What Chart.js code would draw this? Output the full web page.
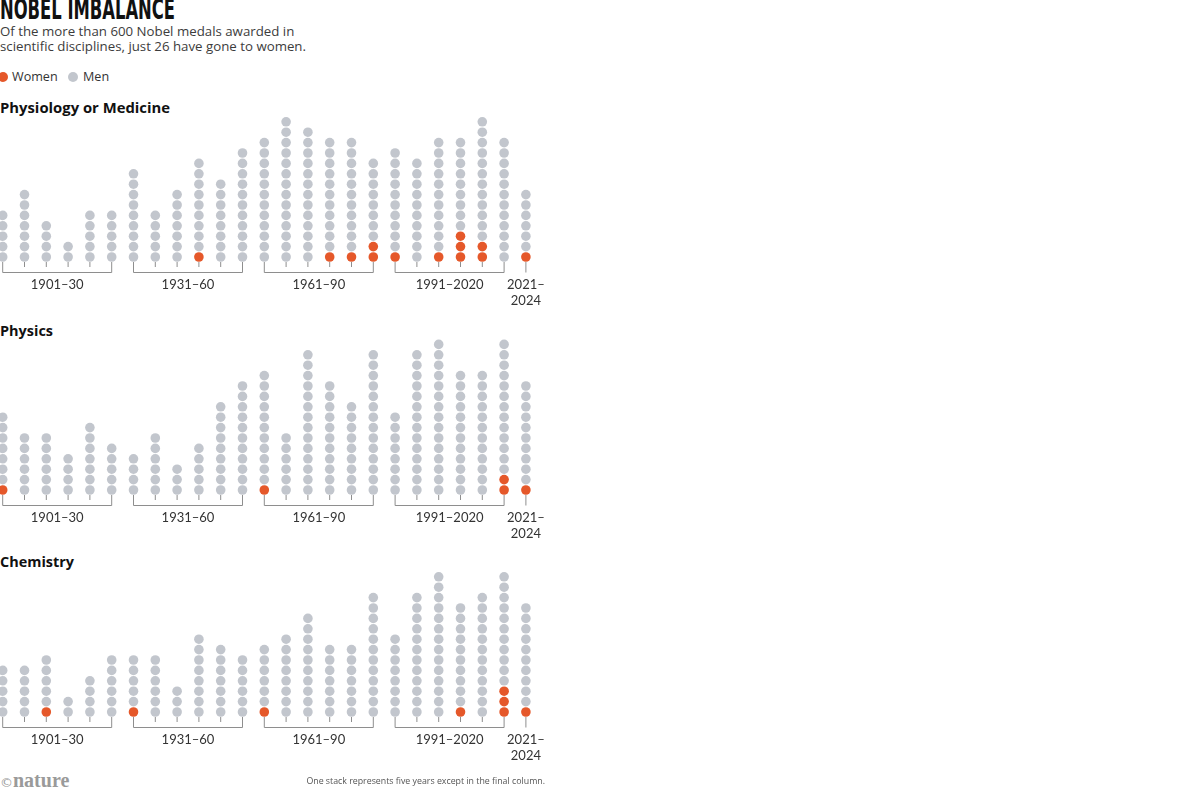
<!DOCTYPE html>
<html><head><meta charset="utf-8">
<script src="https://cdn.jsdelivr.net/npm/chart.js@4.4.1/dist/chart.umd.min.js"></script>
<style>
html,body{margin:0;padding:0;background:#fff;width:1200px;height:797px;overflow:hidden;}
body{position:relative;font-family:'Open Sans',Lato,sans-serif;color:#333;}
.abs{position:absolute;white-space:nowrap;}
#title{left:0;top:-5px;font-family:'Liberation Sans Narrow','DejaVu Sans Condensed',sans-serif;font-weight:bold;font-size:29px;line-height:29px;color:#111;transform-origin:0 0;}
#sub{left:0;top:24px;font-size:13px;line-height:14.7px;color:#3c3c3c;transform-origin:0 0;}
.leg{top:68.5px;font-size:12.6px;line-height:15px;color:#333;}
.dot{position:absolute;width:10px;height:10px;border-radius:50%;top:72px;}
.ptitle{left:0;font-size:14px;line-height:16px;font-weight:bold;color:#111;transform-origin:0 0;}
#logo{left:0;top:769px;font-family:'Liberation Serif',serif;font-weight:bold;font-size:20px;line-height:22px;color:#9a9a9a;}
#logo span{font-family:'DejaVu Sans',sans-serif;font-weight:normal;font-size:13px;}
#note{right:655px;top:776px;font-size:8.8px;line-height:10px;color:#555;}
canvas{position:absolute;left:0;}
</style></head>
<body>
<div id="title" class="abs">NOBEL IMBALANCE</div>
<div id="sub" class="abs">Of the more than 600 Nobel medals awarded in<br>scientific disciplines, just 26 have gone to women.</div>
<div class="dot" style="left:-2px;background:#e5582a"></div>
<div class="abs leg" style="left:12px">Women</div>
<div class="dot" style="left:68px;background:#c2c6cd"></div>
<div class="abs leg" style="left:83px">Men</div>
<div class="abs ptitle" id="t0">Physiology or Medicine</div>
<div class="abs ptitle" id="t1">Physics</div>
<div class="abs ptitle" id="t2">Chemistry</div>
<canvas id="c0" width="550" height="225"></canvas>
<canvas id="c1" width="550" height="225"></canvas>
<canvas id="c2" width="550" height="225"></canvas>
<div id="logo" class="abs"><span>©</span>nature</div>
<div id="note" class="abs">One stack represents five years except in the final column.</div>
<script>
// ---- data ----
const periods = ['1901–05','1906–10','1911–15','1916–20','1921–25','1926–30',
  '1931–35','1936–40','1941–45','1946–50','1951–55','1956–60',
  '1961–65','1966–70','1971–75','1976–80','1981–85','1986–90',
  '1991–95','1996–2000','2001–05','2006–10','2011–15','2016–20','2021–24'];
const medicineTotal = [5,7,4,2,5,5, 9,5,7,10,8,11, 12,14,13,12,12,10, 11,10,12,12,14,12, 7];
const medicineWomen = [0,0,0,0,0,0, 0,0,0,1,0,0, 0,0,0,1,1,2, 1,0,1,3,2,0, 1];
const physicsTotal = [8,6,6,4,7,5, 4,6,3,5,9,11, 12,6,14,11,9,14, 8,14,15,12,12,15, 11];
const physicsWomen = [1,0,0,0,0,0, 0,0,0,0,0,0, 1,0,0,0,0,0, 0,0,0,0,0,2, 1];
const chemistryTotal = [5,5,6,2,4,6, 6,6,3,8,7,6, 7,8,10,7,7,12, 8,12,14,11,12,14, 11];
const chemistryWomen = [0,0,1,0,0,0, 1,0,0,0,0,0, 1,0,0,0,0,0, 0,0,0,1,0,3, 1];
const panelTitles = ['Physiology or Medicine','Physics','Chemistry'];
const groupLabels = ['1901–30','1931–60','1961–90','1991–2020',['2021–','2024']];
const groupStart = [0,6,12,18,24];
const groupEnd = [5,11,17,23,24];

// ---- layout ----
const WOMEN = '#e5582a', MEN = '#c2c6cd';
const bottomDotY = [257.3, 489.5, 711.7];
const titleTop = [100.3, 322.6, 553.8];
const titleWidth = [170, 53, 74];
const colSpacing = 21.8, firstCol = 2.7, rowSpacing = 10.4;
const W = 550, H = 225, above = 170, padBottom = 49.8;

function fitWidth(el, target) {
  const w = el.getBoundingClientRect().width;
  el.style.transform = 'scaleX(' + (target / w) + ')';
}
fitWidth(document.getElementById('title'), 175);

const bracketPlugin = {
  id: 'brackets',
  afterDatasetsDraw(chart) {
    const {ctx, scales: {x, y}} = chart;
    const base = y.getPixelForValue(0);
    const stemTop = base + 5, lineY = Math.round(base + 14.7) + 0.5;
    ctx.save();
    ctx.strokeStyle = '#8e8e8e';
    ctx.lineWidth = 1;
    groupStart.forEach((s, g) => {
      const e = groupEnd[g];
      const x1 = x.getPixelForValue(s), x2 = x.getPixelForValue(e);
      ctx.beginPath();
      if (s === e) {
        ctx.moveTo(x1, stemTop); ctx.lineTo(x1, lineY);
      } else {
        ctx.moveTo(x1, stemTop); ctx.lineTo(x1, lineY); ctx.lineTo(x2, lineY); ctx.lineTo(x2, stemTop);
        for (let i = s + 1; i < e; i++) {
          const xi = x.getPixelForValue(i);
          ctx.moveTo(xi, stemTop); ctx.lineTo(xi, stemTop + 5);
        }
      }
      ctx.stroke();
      const lbl = groupLabels[g];
      const lines = Array.isArray(lbl) ? lbl : [lbl];
      ctx.fillStyle = '#333';
      ctx.font = '13px Lato, sans-serif';
      ctx.textAlign = 'center';
      ctx.textBaseline = 'alphabetic';
      lines.forEach((t, j) => ctx.fillText(t, (x1 + x2) / 2, base + 32.3 + j * 16));
    });
    ctx.restore();
  }
};

function points(total, women, isWomen) {
  const pts = [];
  total.forEach((n, i) => {
    const from = isWomen ? 0 : women[i];
    const to = isWomen ? women[i] : n;
    for (let k = from; k < to; k++) pts.push({x: i, y: k});
  });
  return pts;
}

const panels = [[medicineTotal, medicineWomen],[physicsTotal, physicsWomen],[chemistryTotal, chemistryWomen]];
const xMin = -firstCol / colSpacing, xMax = xMin + W / colSpacing;
const yMin = -0.5, yMax = yMin + (H - padBottom) / rowSpacing;

panels.forEach(([total, women], p) => {
  const cv = document.getElementById('c' + p);
  cv.style.top = (bottomDotY[p] - above) + 'px';
  const tEl = document.getElementById('t' + p);
  tEl.textContent = panelTitles[p];
  tEl.style.top = titleTop[p] + 'px';
  fitWidth(tEl, titleWidth[p]);
  new Chart(cv, {
    type: 'scatter',
    data: {
      datasets: [
        {label: 'Women', data: points(total, women, true), backgroundColor: WOMEN, pointRadius: 4.8, pointBorderWidth: 0, clip: false},
        {label: 'Men', data: points(total, women, false), backgroundColor: MEN, pointRadius: 4.8, pointBorderWidth: 0, clip: false}
      ]
    },
    options: {
      responsive: false, animation: false, devicePixelRatio: 1,
      layout: {autoPadding: false, padding: {left: 0, right: 0, top: 0, bottom: padBottom}},
      scales: {
        x: {type: 'linear', min: xMin, max: xMax, display: false},
        y: {type: 'linear', min: yMin, max: yMax, display: false}
      },
      plugins: {legend: {display: false}, tooltip: {enabled: false}, title: {display: false}}
    },
    plugins: [bracketPlugin]
  });
});
fitWidth(document.getElementById('sub'), 306);
</script>
</body></html>
